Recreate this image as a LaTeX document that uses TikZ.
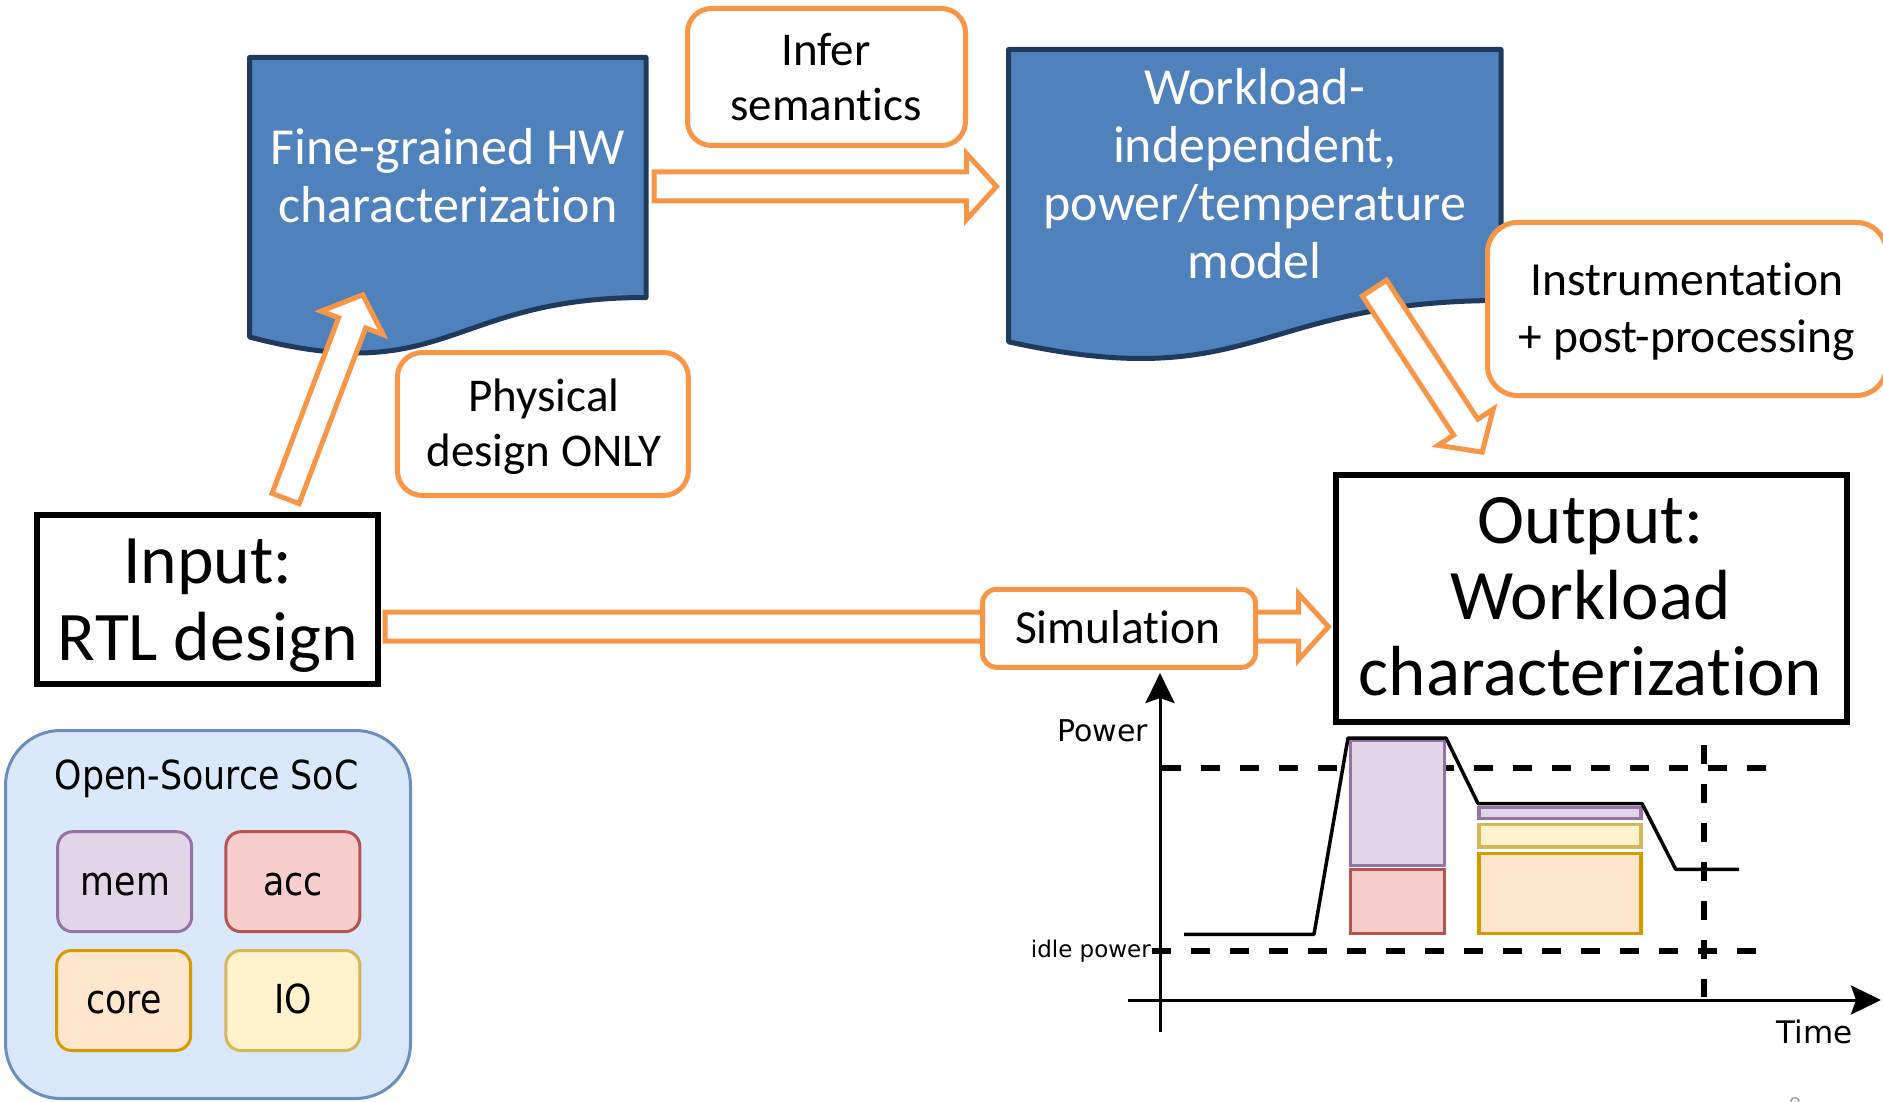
\documentclass[tikz,border=0pt]{standalone}
\usepackage{fontspec}
\setmainfont{Carlito}[Ligatures=NoCommon]
\newfontfamily\socfont[FakeStretch=0.87]{DejaVu Sans}
\newfontfamily\plotfont{DejaVu Sans}
\usetikzlibrary{calc,arrows.meta}

\definecolor{accent}{HTML}{F79646}
\definecolor{docfill}{HTML}{4F81BD}
\definecolor{docline}{HTML}{203A5E}
\definecolor{socfill}{HTML}{DAE8FC}
\definecolor{socline}{HTML}{6C8EBF}
\definecolor{memfill}{HTML}{E1D5E7}
\definecolor{memline}{HTML}{9673A6}
\definecolor{accfill}{HTML}{F8CECC}
\definecolor{accline}{HTML}{B85450}
\definecolor{corefill}{HTML}{FFE6CC}
\definecolor{coreline}{HTML}{D79B00}
\definecolor{iofill}{HTML}{FFF2CC}
\definecolor{ioline}{HTML}{D6B656}

\newcommand\fsz[2]{\fontsize{#1pt}{#2pt}\selectfont}

% hollow block arrow from tail coordinate #1 to tip coordinate #2
\newcommand\blockarrow[2]{%
  \coordinate (ba-base) at ($(#2)!30pt!(#1)$);
  \draw[hollowarrow] ($(#1)!14.5pt!90:(#2)$) -- ($(ba-base)!14.5pt!-90:(#1)$)
    -- ($(ba-base)!33pt!-90:(#1)$) -- (#2)
    -- ($(ba-base)!33pt!90:(#1)$) -- ($(ba-base)!14.5pt!90:(#1)$)
    -- ($(#1)!14.5pt!-90:(#2)$) -- cycle;
}

\tikzset{
  hollowarrow/.style={draw=accent, fill=white, line width=5pt, line join=miter},
  labelbox/.style={draw=accent, fill=white, line width=5pt, inner sep=0pt},
  framebox/.style={draw=black, fill=white, line width=6pt, inner sep=0pt},
  docshape/.style={draw=docline, fill=docfill, line width=5pt, line join=round},
  multiline/.style={anchor=base, inner sep=0pt},
  socpart/.style={line width=3pt, rounded corners=15pt, inner sep=0pt,
    minimum width=134pt, minimum height=100pt},
  chartblock/.style={line width=3.5pt},
  axisline/.style={line width=3pt, draw=black},
  guide/.style={line width=6pt, dash pattern=on 19pt off 20pt},
}

\begin{document}
\begin{tikzpicture}[x=1pt, y=-1pt]
\useasboundingbox (0,0) rectangle (1883,1102);
\clip (0,0) rectangle (1883,1102);

% ---------- SoC block ----------
\node[draw=socline, fill=socfill, line width=3pt, rounded corners=55pt,
      minimum width=405pt, minimum height=368pt, inner sep=0pt] (soc) at (208,914.5) {};
\node[multiline, font=\socfont\fsz{40}{48}] (soc-title) at (206.5,789.3) {Open-Source SoC};
\node[socpart, draw=memline, fill=memfill] (mem) at (124.7,881.7) {};
\node[socpart, draw=accline, fill=accfill] (acc) at (292.9,881.7) {};
\node[socpart, draw=coreline, fill=corefill] (core) at (123.7,1000.5) {};
\node[socpart, draw=ioline, fill=iofill] (io) at (292.9,1000.5) {};
\node[multiline, font=\socfont\fsz{40}{48}] (mem-t) at (125.5,895) {mem};
\node[multiline, font=\socfont\fsz{40}{48}] (acc-t) at (292.9,895) {acc};
\node[multiline, font=\socfont\fsz{40}{48}] (core-t) at (123.7,1013) {core};
\node[multiline, font=\socfont\fsz{40}{48}] (io-t) at (292.9,1013) {IO};

% ---------- document shapes ----------
\draw[docshape] (249.5,57.5) -- (646,57.5) -- (646,297.5)
  .. controls (447.75,297.5) and (447.75,389) .. (249.5,337) -- cycle;
\node[multiline, text=white, font=\fsz{52}{58}] (doc1) at (447.75,165)
  {\begin{tabular}[t]{@{}c@{}}Fine-grained HW\\characterization\end{tabular}};

\draw[docshape] (1008.5,49.5) -- (1501,49.5) -- (1501,300.5)
  .. controls (1254.75,300.5) and (1254.75,396.1) .. (1008.5,341.8) -- cycle;
\node[multiline, text=white, font=\fsz{52}{58}] (doc2) at (1254.75,105)
  {\begin{tabular}[t]{@{}c@{}}Workload-\\independent,\\power/temperature\\model\end{tabular}};

% ---------- block arrows ----------
\coordinate (a1-tail) at (654,186.5);
\coordinate (a1-tip) at (996.5,186.5);
\coordinate (a2-tail) at (285.6,498.5);
\coordinate (a2-tip) at (362.8,294.8);
\coordinate (a3-tail) at (1374.4,288.1);
\coordinate (a3-tip) at (1482.2,452.2);
\coordinate (a4-tail) at (385,626.7);
\coordinate (a4-tip) at (1328.5,626.7);

\blockarrow{a1-tail}{a1-tip}
\blockarrow{a2-tail}{a2-tip}
\blockarrow{a4-tail}{a4-tip}

% ---------- step labels ----------
\node[labelbox, rounded corners=24pt, minimum width=278pt, minimum height=137pt] (infer) at (826.5,77) {};
\node[multiline, font=\fsz{47}{55}] (infer-t) at (826,66)
  {\begin{tabular}[t]{@{}c@{}}Infer\\semantics\end{tabular}};

\node[labelbox, rounded corners=25pt, minimum width=291pt, minimum height=143pt] (phys) at (542.9,424) {};
\node[multiline, font=\fsz{47}{55}] (phys-t) at (544,411.7)
  {\begin{tabular}[t]{@{}c@{}}Physical\\design ONLY\end{tabular}};

\node[labelbox, rounded corners=14pt, minimum width=273pt, minimum height=78pt] (sim) at (1119,628.3) {};
\node[multiline, font=\fsz{47.5}{55}] (sim-t) at (1118,643.3) {Simulation};

\node[labelbox, rounded corners=30pt, minimum width=399pt, minimum height=173pt] (instr) at (1687,309) {};
\node[multiline, font=\fsz{47.5}{57}] (instr-t) at (1687,295)
  {\begin{tabular}[t]{@{}c@{}}Instrumentation\\+ post-processing\end{tabular}};

\blockarrow{a3-tail}{a3-tip}

% ---------- input / output ----------
\node[framebox, minimum width=340.7pt, minimum height=169.5pt] (input) at (207.4,599.3) {};
\node[multiline, font=\fsz{69.6}{77}] (input-t) at (207.8,583)
  {\begin{tabular}[t]{@{}c@{}}Input:\\RTL design\end{tabular}};

\node[framebox, minimum width=511pt, minimum height=247pt] (output) at (1591.5,598.4) {};
\node[multiline, font=\fsz{71}{76}] (output-t) at (1590.5,543)
  {\begin{tabular}[t]{@{}c@{}}Output:\\Workload\\characterization\end{tabular}};

% ---------- power trace ----------
\draw[guide] (1161.7,768) -- (1769,768);
\draw[guide] (1152,951) -- (1762,951);
\draw[guide] (1704,745) -- (1704,997);

\draw[chartblock, draw=memline, fill=memfill] (1350.5,740) rectangle (1444.5,865.5);
\draw[chartblock, draw=accline, fill=accfill] (1350.5,869.5) rectangle (1444.5,933.5);
\draw[chartblock, draw=memline, fill=memfill] (1479,807.5) rectangle (1641,818.5);
\draw[chartblock, draw=ioline, fill=iofill] (1479,824.5) rectangle (1641,847);
\draw[chartblock, draw=coreline, fill=corefill] (1479,853.5) rectangle (1641,933.5);

\draw[line width=3.5pt, line join=round] (1184,934.3) -- (1314,934.3) -- (1348,738)
  -- (1446,738) -- (1478,803.5) -- (1642,803.5) -- (1675.7,869.3) -- (1739,869.3);

\coordinate (y-from) at (1160,1032);
\coordinate (y-to) at (1160,673);
\coordinate (x-from) at (1128,1000);
\coordinate (x-to) at (1881,1000);
\draw[axisline, -{Stealth[length=30pt, width=29pt, inset=5pt]}] (y-from) -- (y-to);
\draw[axisline, -{Stealth[length=30pt, width=29pt, inset=5pt]}] (x-from) -- (x-to);

\node[anchor=base east, inner sep=0pt, font=\plotfont\fsz{30}{36}] (power-lbl) at (1148,741) {Power};
\node[anchor=base east, inner sep=0pt, font=\plotfont\fsz{23}{28}] (idle-lbl) at (1151,957) {idle power};
\node[anchor=base east, inner sep=0pt, font=\plotfont\fsz{31}{37}] (time-lbl) at (1853,1043) {Time};

\node[anchor=base, inner sep=0pt, text=gray!70, font=\plotfont\fsz{20}{24}] (pagenum) at (1795,1112) {8};
\end{tikzpicture}
\end{document}
